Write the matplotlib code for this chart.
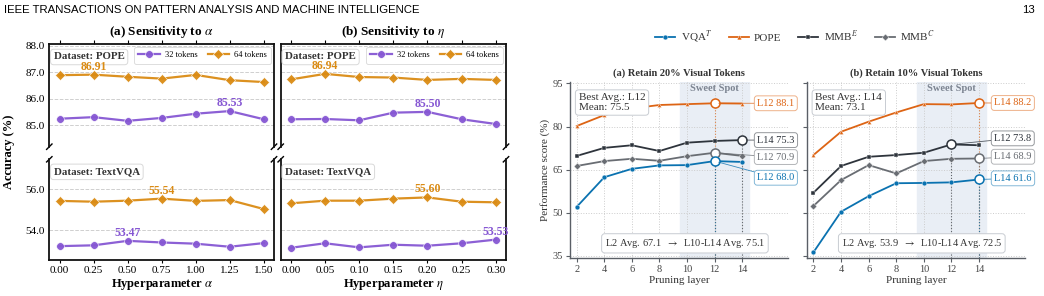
import matplotlib
matplotlib.use('Agg')
import matplotlib.pyplot as plt
import numpy as np
from matplotlib.lines import Line2D
from matplotlib.colors import to_rgba

plt.rcParams['font.family'] = ['Liberation Serif', 'DejaVu Serif']
plt.rcParams['mathtext.fontset'] = 'stix'

# ---------------- data: sensitivity (left) ----------------
alpha_vals = [0.00, 0.25, 0.50, 0.75, 1.00, 1.25, 1.50]
eta_vals = [0.00, 0.05, 0.10, 0.15, 0.20, 0.25, 0.30]
alpha_pope_32 = [85.24, 85.30, 85.16, 85.27, 85.43, 85.53, 85.22]
alpha_pope_64 = [86.89, 86.91, 86.83, 86.76, 86.90, 86.70, 86.63]
alpha_text_32 = [53.21, 53.25, 53.47, 53.39, 53.33, 53.18, 53.36]
alpha_text_64 = [55.43, 55.39, 55.44, 55.54, 55.43, 55.47, 55.03]
eta_pope_32 = [85.22, 85.23, 85.18, 85.47, 85.50, 85.22, 85.04]
eta_pope_64 = [86.73, 86.94, 86.82, 86.80, 86.71, 86.75, 86.71]
eta_text_32 = [53.13, 53.35, 53.15, 53.28, 53.23, 53.35, 53.53]
eta_text_64 = [55.31, 55.44, 55.44, 55.54, 55.60, 55.39, 55.36]

# ---------------- data: pruning layer (right) ----------------
layers = [2, 4, 6, 8, 10, 12, 14]
r20_vqa = [52.1, 62.4, 65.3, 66.5, 66.6, 68.0, 67.7]
r20_pope = [80.2, 84.0, 86.3, 87.5, 87.8, 88.1, 88.0]
r20_mmbe = [69.8, 72.6, 73.5, 71.5, 74.4, 75.0, 75.3]
r20_mmbc = [66.3, 68.0, 68.8, 68.1, 69.7, 70.9, 69.8]
r10_vqa = [36.3, 50.4, 55.8, 60.3, 60.4, 60.6, 61.6]
r10_pope = [70.1, 78.2, 81.7, 84.9, 87.8, 87.7, 88.2]
r10_mmbe = [57.0, 66.3, 69.5, 70.1, 70.9, 73.8, 73.5]
r10_mmbc = [52.4, 61.4, 66.6, 63.7, 68.0, 68.8, 68.9]

PURPLE = '#8657D3'
GOLD = '#DA8B14'
BLUE = '#0A72B0'
ORANGE = '#DD6414'
DARK = '#2E343C'
GRAY = '#696D73'

W, H = 1044, 296
fig = plt.figure(figsize=(W / 100, H / 100), dpi=100)


def px_axes(x0, y0, x1, y1):
    return fig.add_axes([x0 / W, 1 - y1 / H, (x1 - x0) / W, (y1 - y0) / H])


# header
fig.text(4 / W, 1 - 10 / H, 'IEEE TRANSACTIONS ON PATTERN ANALYSIS AND MACHINE INTELLIGENCE',
         family=['Liberation Sans', 'DejaVu Sans'], fontsize=8.2, va='center', ha='left')
fig.text(1035 / W, 1 - 10 / H, '13', family=['Liberation Sans', 'DejaVu Sans'],
         fontsize=8.2, va='center', ha='right')


def break_marks(ax, where):
    d = 0.012
    kw = dict(transform=ax.transAxes, color='k', clip_on=False, lw=1.0)
    dy = d * 2.2
    y = 0 if where == 'bottom' else 1
    for x in (0, 1):
        ax.plot((x - d, x + d), (y - dy, y + dy), **kw)


def left_group(ax_t, ax_b, xs, p32, p64, t32, t64, title, xlabel, show_y, xticklabels):
    for ax in (ax_t, ax_b):
        ax.yaxis.grid(True, ls='--', color='#cfcfcf', lw=0.7)
        ax.set_axisbelow(True)
        for s in ax.spines.values():
            s.set_linewidth(1.3)
            s.set_color('#111111')
        ax.set_xlim(xs[0] - 0.05 * (xs[-1] - xs[0]), xs[-1] + 0.05 * (xs[-1] - xs[0]))
        ax.set_xticks(xs)
    ax_t.spines['bottom'].set_visible(False)
    ax_b.spines['top'].set_visible(False)
    ax_t.xaxis.tick_top()
    ax_t.tick_params(axis='x', labeltop=False, length=3, width=0.8)
    ax_b.tick_params(axis='x', length=2, width=0.8, labelsize=8, pad=2)
    ax_b.set_xticklabels(xticklabels)
    ax_t.set_ylim(84.18, 88.06)
    ax_t.set_yticks([85.0, 86.0, 87.0, 88.0])
    ax_b.set_ylim(52.53, 57.47)
    ax_b.set_yticks([54.0, 56.0])
    for ax in (ax_t, ax_b):
        if show_y:
            ax.tick_params(axis='y', length=0, labelsize=8, pad=3)
            ax.yaxis.set_major_formatter(matplotlib.ticker.FormatStrFormatter('%.1f'))
        else:
            ax.tick_params(axis='y', length=0, labelleft=False)
    for ax, s32, s64, name in ((ax_t, p32, p64, 'POPE'), (ax_b, t32, t64, 'TextVQA')):
        ax.plot(xs, s32, color=PURPLE, lw=1.6, marker='o', ms=5.5, mec='white', mew=0.4,
                alpha=0.95, label='32 tokens', zorder=3)
        ax.plot(xs, s64, color=GOLD, lw=1.6, marker='D', ms=5.5, mec='white', mew=0.4,
                alpha=0.95, label='64 tokens', zorder=3)
        ax.text(0.02, 0.92, f'Dataset: {name}', transform=ax.transAxes, ha='left', va='top',
                fontsize=7.8, fontweight='bold', color='#333333', zorder=6,
                bbox=dict(boxstyle='round,pad=0.3', fc='white', ec='#d5d5d5', lw=0.7, alpha=0.9))
        for s, c in ((s32, PURPLE), (s64, GOLD)):
            i = int(np.argmax(s))
            ax.annotate(f'{s[i]:.2f}', xy=(xs[i], s[i]), xytext=(0, 1.5), textcoords='offset points',
                        ha='center', va='bottom', fontsize=8.5, fontweight='bold', color=c, zorder=8)
    leg = ax_t.legend(loc='upper right', ncol=2, fontsize=6, frameon=True, handlelength=2.6,
                      borderaxespad=0.35, columnspacing=1.2, handletextpad=0.6,
                      borderpad=0.5, fancybox=True)
    leg.get_frame().set_edgecolor('#d5d5d5')
    leg.get_frame().set_linewidth(0.7)
    break_marks(ax_t, 'bottom')
    break_marks(ax_b, 'top')
    ax_t.set_title(title, fontsize=9.5, fontweight='bold', pad=7)
    ax_b.set_xlabel(xlabel, fontsize=9, fontweight='bold', labelpad=2)


a_top = px_axes(49.3, 44.3, 274, 146.7)
a_bot = px_axes(49.3, 159.3, 274, 260)
b_top = px_axes(280.7, 44.3, 506, 146.7)
b_bot = px_axes(280.7, 159.3, 506, 260)
left_group(a_top, a_bot, alpha_vals, alpha_pope_32, alpha_pope_64, alpha_text_32, alpha_text_64,
           r'(a) Sensitivity to $\alpha$', r'Hyperparameter $\alpha$', True,
           [f'{v:.2f}' for v in alpha_vals])
left_group(b_top, b_bot, eta_vals, eta_pope_32, eta_pope_64, eta_text_32, eta_text_64,
           r'(b) Sensitivity to $\eta$', r'Hyperparameter $\eta$', False,
           [f'{v:.2f}' for v in eta_vals])
fig.text(9 / W, 1 - 152 / H, 'Accuracy (%)', rotation=90, ha='center', va='center',
         fontsize=9, fontweight='bold')

# ---------------- right group ----------------
YLO, YHI = 34.2, 95.6


def right_panel(ax, series, label_y, title, best_txt, avg_txt, show_y):
    ax.set_xlim(1.51, 17.33)
    ax.set_ylim(YLO, YHI)
    ax.axvspan(9.5, 14.5, color='#E9EEF5', zorder=0)
    ax.grid(True, ls=':', color='#cccccc', lw=0.7)
    ax.set_axisbelow(True)
    ax.text(12, 93.2, 'Sweet Spot', ha='center', va='center', fontsize=7.5, fontweight='bold',
            color='#7C8491', zorder=2)
    for sp in ('top', 'right'):
        ax.spines[sp].set_visible(False)
    for sp in ('left', 'bottom'):
        ax.spines[sp].set_color('#5a5f66')
        ax.spines[sp].set_linewidth(1.0)
    ax.set_xticks(layers)
    ax.set_yticks([35, 50, 65, 80, 95])
    ax.tick_params(length=3, width=0.8, color='#5a5f66', labelsize=7.5, labelcolor='#444444', pad=2)
    if not show_y:
        ax.tick_params(axis='y', labelleft=False)
    for (name, vals, color, marker, ms), ly in zip(series, label_y):
        ax.plot(layers, vals, color=color, marker=marker, ms=ms, lw=1.3, mec='white', mew=0.3,
                zorder=3, label=name)
        i = int(np.argmax(vals))
        bx, by = layers[i], vals[i]
        ax.vlines(bx, YLO, by, color=color, ls=':', lw=0.8, alpha=0.7, zorder=2)
        ax.plot(bx, by, 'o', ms=6.5, mfc='white', mec=color, mew=1.1, zorder=5)
        ax.annotate(f'L{bx} {by:.1f}', xy=(bx, by), xytext=(15.1, ly), ha='left', va='center',
                    fontsize=7.5, color=color, zorder=6,
                    bbox=dict(boxstyle='round,pad=0.28', fc='white', ec=to_rgba(color, 0.5), lw=0.7),
                    arrowprops=dict(arrowstyle='-', color=color, lw=0.6, shrinkA=0, shrinkB=3,
                                    alpha=0.8))
    ax.text(0.04, 0.935, best_txt, transform=ax.transAxes, ha='left', va='top', fontsize=8,
            color='#333333', linespacing=1.1, zorder=6,
            bbox=dict(boxstyle='round,pad=0.3', fc='white', ec='#c8ccd2', lw=0.7))
    ax.text(9.85, 39.4, avg_txt, ha='center', va='center', fontsize=7.5, color='#333333', zorder=6,
            bbox=dict(boxstyle='round,pad=0.3', fc='white', ec='#c8ccd2', lw=0.7))
    ax.set_title(title, fontsize=7.5, fontweight='bold', pad=4, color='#333333')
    ax.set_xlabel('Pruning layer', fontsize=8, color='#333333', labelpad=1)


ra = px_axes(570, 81.7, 788, 258.3)
rb = px_axes(806.7, 81.7, 1025, 258.3)
series20 = [('POPE', r20_pope, ORANGE, '^', 3), ('MMB$^E$', r20_mmbe, DARK, 's', 3.5),
            ('MMB$^C$', r20_mmbc, GRAY, 'D', 3.5), ('VQA$^T$', r20_vqa, BLUE, 'o', 3.5)]
series10 = [('POPE', r10_pope, ORANGE, '^', 3), ('MMB$^E$', r10_mmbe, DARK, 's', 3.5),
            ('MMB$^C$', r10_mmbc, GRAY, 'D', 3.5), ('VQA$^T$', r10_vqa, BLUE, 'o', 3.5)]
right_panel(ra, series20, [88.1, 75.3, 69.4, 62.2], '(a) Retain 20% Visual Tokens',
            'Best Avg.: L12\nMean: 75.5', r'L2 Avg. 67.1  $\rightarrow$  L10-L14 Avg. 75.1', True)
right_panel(rb, series10, [88.2, 75.9, 69.5, 62.0], '(b) Retain 10% Visual Tokens',
            'Best Avg.: L14\nMean: 73.1', r'L2 Avg. 53.9  $\rightarrow$  L10-L14 Avg. 72.5', False)
ra.set_ylabel('Performance score (%)', fontsize=8, color='#333333', labelpad=2)

handles = [Line2D([], [], color=BLUE, marker='o', ms=3.5, lw=1.3, mec='white', mew=0.3),
           Line2D([], [], color=ORANGE, marker='^', ms=3.5, lw=1.3, mec='white', mew=0.3),
           Line2D([], [], color=DARK, marker='s', ms=3.5, lw=1.3, mec='white', mew=0.3),
           Line2D([], [], color=GRAY, marker='D', ms=3.5, lw=1.3, mec='white', mew=0.3)]
fig.legend(handles, ['VQA$^T$', 'POPE', 'MMB$^E$', 'MMB$^C$'], loc='center',
           bbox_to_anchor=(795 / W, 1 - 37 / H), ncol=4, frameon=False, fontsize=8,
           handlelength=1.8, columnspacing=1.5, handletextpad=0.5, labelcolor='#333333')

fig.savefig('out.png', dpi=100)
